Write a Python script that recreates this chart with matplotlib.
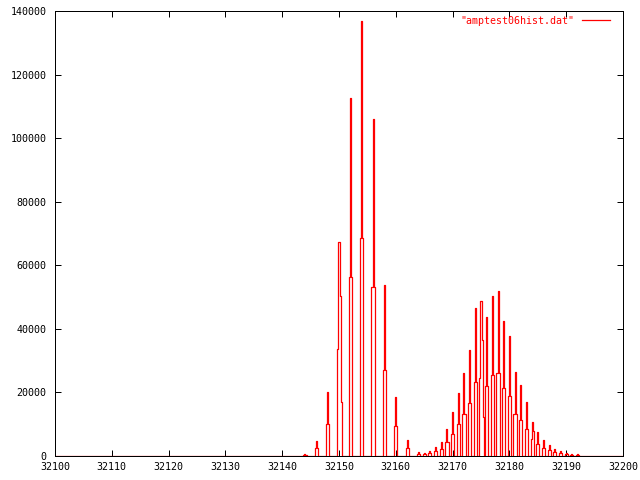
import numpy as np
import matplotlib
matplotlib.use("Agg")
import matplotlib.pyplot as plt

# histogram of amptest06hist.dat
# each peak is drawn from a few fine bins: left side, peak, right side, tail
centers = [32144, 32146, 32148, 32150, 32152, 32154, 32156, 32158, 32160, 32162,
           32164, 32165, 32166, 32167, 32168, 32169, 32170, 32171, 32172, 32173,
           32174, 32175, 32176, 32177, 32178, 32179, 32180, 32181, 32182, 32183,
           32184, 32185, 32186, 32187, 32188, 32189, 32190, 32191, 32192]
left = [300, 2600, 10000, 33600, 56300, 68600, 53300, 27200, 9400, 2600,
        600, 500, 1100, 1600, 2100, 4400, 6900, 10200, 13300, 16700,
        23300, 24500, 22100, 25400, 26200, 21500, 19000, 13200, 11300, 8500,
        5300, 3800, 2600, 1900, 1300, 1000, 500, 300, 200]
peak = [600, 4700, 20200, 67300, 112600, 136900, 106000, 53800, 18600, 5000,
        1250, 900, 1600, 2900, 4400, 8500, 13700, 19800, 26100, 33300,
        46600, 48800, 43800, 50400, 52000, 42600, 37800, 26500, 22400, 17000,
        10700, 7500, 5000, 3500, 2200, 1600, 1050, 700, 500]
right = [300, 2600, 10000, 50300, 56300, 68600, 53300, 27200, 9400, 2600,
         600, 500, 1100, 1600, 2100, 4400, 6900, 10200, 13300, 16700,
         23300, 36500, 22100, 25400, 26200, 21500, 19000, 13200, 11300, 8500,
         7900, 3800, 2600, 1900, 1300, 1000, 500, 300, 200]
tail = [0, 0, 0, 17100, 0, 0, 0, 0, 0, 0,
        0, 0, 0, 0, 0, 0, 0, 0, 0, 0,
        0, 12400, 0, 0, 0, 0, 0, 0, 0, 0,
        0, 0, 0, 0, 0, 0, 0, 0, 0]
x_lo, x_hi = 32100, 32200

# build the fine bins
w = 0.19
xs = [x_lo]
ys = [0]
for c, l, p, r, t in zip(centers, left, peak, right, tail):
    xs += [c - 2 * w, c - w, c, c + w, c + 2 * w, c + 3 * w]
    ys += [0, l, p, r, t, 0]
xs.append(x_hi)
ys.append(0)

plt.rcParams['font.family'] = 'DejaVu Sans Mono'
plt.rcParams['font.size'] = 7.2

fig = plt.figure(figsize=(6.4, 4.8), dpi=100)
ax = fig.add_axes([55 / 640, 24 / 480, 568 / 640, 445 / 480])

ax.step(xs, ys, where='mid', color='#ff0000', lw=0.9, snap=True,
        label='"amptest06hist.dat"')

ax.set_xlim(x_lo, x_hi)
ax.set_ylim(0, 140000)
ax.set_xticks(np.arange(32100, 32201, 10))
ax.set_yticks(np.arange(0, 140001, 20000))
ax.tick_params(direction='in', length=4, width=0.72, top=True, right=True,
               colors='black')
ax.tick_params(axis='y', pad=6)
ax.tick_params(axis='x', pad=4)
for s in ax.spines.values():
    s.set_linewidth(0.72)

ax.legend(loc='center right', bbox_to_anchor=((610 - 55) / 568, (456 - 21) / 445),
          frameon=False, markerfirst=False, labelcolor='#ff0000',
          handlelength=2.8, handletextpad=0.8, borderpad=0, borderaxespad=0,
          fontsize=7.2)

fig.savefig('out.png', dpi=100)
